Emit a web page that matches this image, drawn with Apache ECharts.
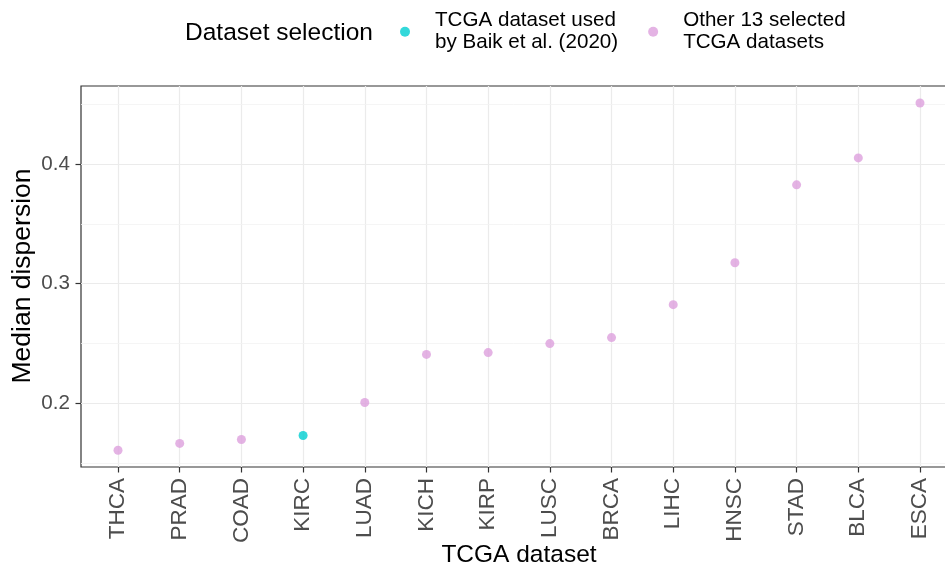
<html>
<head>
  <title>Median dispersion</title>
  <script src="https://cdn.jsdelivr.net/npm/echarts@6/dist/echarts.min.js"></script>
<style>
  body { margin: 0; background-color: white }
</style>
  <script type="text/javascript">

    // categories in plotted order
    var datasets = ['THCA', 'PRAD', 'COAD', 'KIRC', 'LUAD', 'KICH', 'KIRP',
                    'LUSC', 'BRCA', 'LIHC', 'HNSC', 'STAD', 'BLCA', 'ESCA'];
    var medianDispersion = [0.161, 0.1667, 0.170, 0.1733, 0.2008, 0.241, 0.2425,
                            0.250, 0.255, 0.2825, 0.3175, 0.3825, 0.405, 0.4508];
    var baikDatasets = ['KIRC'];
    var yTicks = [0.2, 0.3, 0.4];
    var yMinorTicks = [0.15, 0.25, 0.35, 0.45];
    var groupNames = ['TCGA dataset used\nby Baik et al. (2020)', 'Other 13 selected\nTCGA datasets'];

    const FONT = 'Liberation Sans';

    function init() {
      var myChart = echarts.init(document.getElementById('main'), null, {renderer: 'canvas'});

      let baik = [], other = [];
      datasets.forEach((d, i) => {
        if (baikDatasets.includes(d)) baik.push([i, medianDispersion[i]]);
        else other.push([i, medianDispersion[i]]);
      });
      let idx = datasets.map((d, i) => i);

      let option = {
        animation: false,
        textStyle: { fontFamily: FONT },
        title: {
          text: 'Dataset selection',
          left: 180, top: 7,
          textStyle: { fontFamily: FONT, fontSize: 24.5, fontWeight: 'normal', color: '#000' }
        },
        legend: {
          left: 395, top: -2,
          icon: 'circle', itemWidth: 10, itemHeight: 10, itemGap: 30,
          textStyle: { fontFamily: FONT, fontSize: 20.6, color: '#000', lineHeight: 22, padding: [0, 0, 0, 20] },
          data: groupNames
        },
        // axis titles
        graphic: [
          { type: 'text', x: 519, y: 555, style: { text: 'TCGA dataset', fontFamily: FONT, fontSize: 24.5,
            fill: '#000', align: 'center', verticalAlign: 'middle' } },
          { type: 'text', x: 23, y: 276, rotation: Math.PI / 2, style: { text: 'Median dispersion', fontFamily: FONT,
            fontSize: 26.5, fill: '#000', align: 'center', verticalAlign: 'middle' } }
        ],
        grid: {
          left: 81, top: 86, bottom: 100, right: -12,
          outerBoundsMode: 'none',
          show: true, borderColor: '#333333', borderWidth: 1.2,
          containLabel: false
        },
        xAxis: {
          type: 'value', min: -0.6, max: 13.6,
          axisLine: { show: false, onZero: false },
          axisTick: { show: true, length: 5.5, customValues: idx, lineStyle: { color: '#333333', width: 1.2 } },
          axisLabel: {
            customValues: idx, rotate: 90, margin: 11,
            fontFamily: FONT, fontSize: 22.5, color: '#4D4D4D',
            formatter: v => datasets[Math.round(v)]
          },
          splitLine: { show: true, lineStyle: { color: '#EBEBEB', width: 1.2 } }
        },
        yAxis: {
          type: 'value', min: 0.147, max: 0.465,
          axisLine: { show: false, onZero: false },
          axisTick: { show: true, length: 5.5, customValues: yTicks, lineStyle: { color: '#333333', width: 1.2 } },
          axisLabel: {
            customValues: yTicks, margin: 11,
            fontFamily: FONT, fontSize: 20.6, color: '#4D4D4D',
            formatter: v => v.toFixed(1)
          },
          splitLine: { show: true, lineStyle: { color: '#EBEBEB', width: 1.2 } }
        },
        series: [
          { name: groupNames[0], type: 'scatter', data: baik, symbolSize: 9,
            itemStyle: { color: '#00CED1' }, z: 3,
            // minor horizontal gridlines
            markLine: {
              silent: true, symbol: 'none', label: { show: false }, z: 1,
              lineStyle: { color: '#F2F2F2', width: 0.8, type: 'solid' },
              data: yMinorTicks.map(v => ({ yAxis: v }))
            }
          },
          { name: groupNames[1], type: 'scatter', data: other, symbolSize: 9,
            itemStyle: { color: '#DDA0DD' }, z: 3 }
        ]
      };
      myChart.setOption(option);
    }
  </script>
</head>
<body onload="init();">
  <div id="main" style="width: 945px; height: 567px;"></div>
</body>
</html>
